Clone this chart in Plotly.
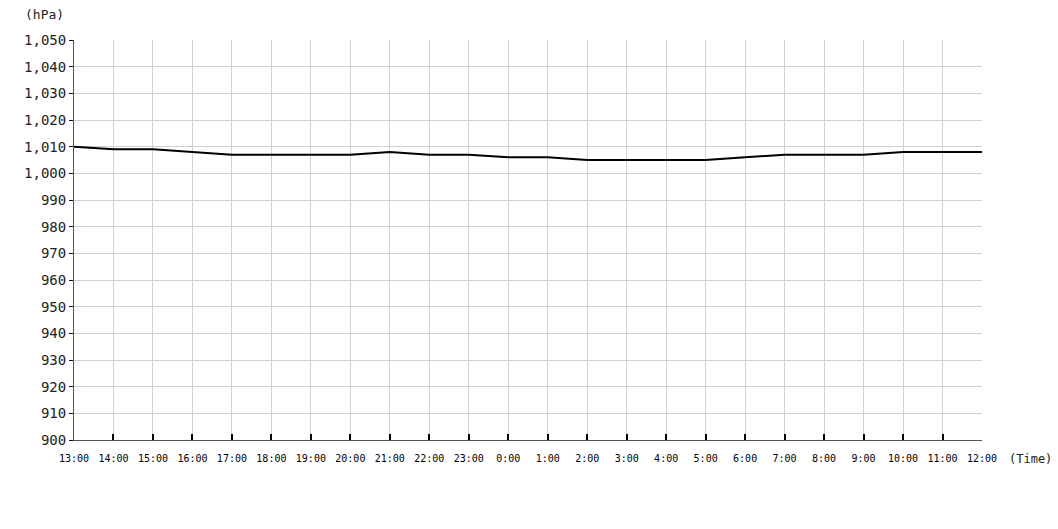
import plotly.graph_objects as go

times = ["13:00", "14:00", "15:00", "16:00", "17:00", "18:00", "19:00", "20:00",
         "21:00", "22:00", "23:00", "0:00", "1:00", "2:00", "3:00", "4:00",
         "5:00", "6:00", "7:00", "8:00", "9:00", "10:00", "11:00", "12:00"]
pressure = [1010, 1009, 1009, 1008, 1007, 1007, 1007, 1007,
            1008, 1007, 1007, 1006, 1006, 1005, 1005, 1005,
            1005, 1006, 1007, 1007, 1007, 1008, 1008, 1008]
y_ticks = list(range(900, 1051, 10))
y_labels = [f"{v:,}" for v in y_ticks]

FONT = "DejaVu Sans Mono"

fig = go.Figure()
fig.add_trace(go.Scatter(
    x=list(range(len(times))), y=pressure, mode="lines",
    line=dict(color="#000000", width=2), hoverinfo="skip", showlegend=False,
))

fig.update_layout(
    width=1058, height=529,
    margin=dict(l=74, r=76, t=40, b=89),
    paper_bgcolor="white", plot_bgcolor="white",
    font=dict(family=FONT, color="#222"),
    xaxis=dict(
        range=[0, len(times) - 1],
        tickmode="array", tickvals=list(range(len(times))), ticktext=times,
        tickfont=dict(family=FONT, size=10, color="#000"),
        ticklabelstandoff=9,
        showgrid=True, gridcolor="#d0d0d0", gridwidth=1,
        showline=True, linecolor="#555", linewidth=1,
        ticks="inside", ticklen=6, tickcolor="#000", tickwidth=1.5,
        zeroline=False, fixedrange=True,
    ),
    yaxis=dict(
        range=[900, 1050],
        tickmode="array", tickvals=y_ticks, ticktext=y_labels,
        tickfont=dict(family=FONT, size=14, color="#222"),
        showgrid=True, gridcolor="#d0d0d0", gridwidth=1,
        showline=True, linecolor="#555", linewidth=1,
        ticks="outside", ticklen=4, tickcolor="#111",
        zeroline=False, fixedrange=True,
    ),
    annotations=[
        dict(text="(hPa)", xref="paper", yref="paper", x=0, y=1.0,
             xshift=-8, yshift=26, xanchor="right", yanchor="middle", showarrow=False,
             font=dict(family=FONT, size=13, color="#222")),
        dict(text="(Time)", xref="paper", yref="paper", x=1.0, y=0,
             xshift=25, yshift=-19, xanchor="left", yanchor="middle", showarrow=False,
             font=dict(family=FONT, size=12, color="#222")),
    ],
)

fig.write_html("out.html", config={"displayModeBar": False},
               post_script="document.body.style.margin='0';document.body.style.overflow='hidden';")
